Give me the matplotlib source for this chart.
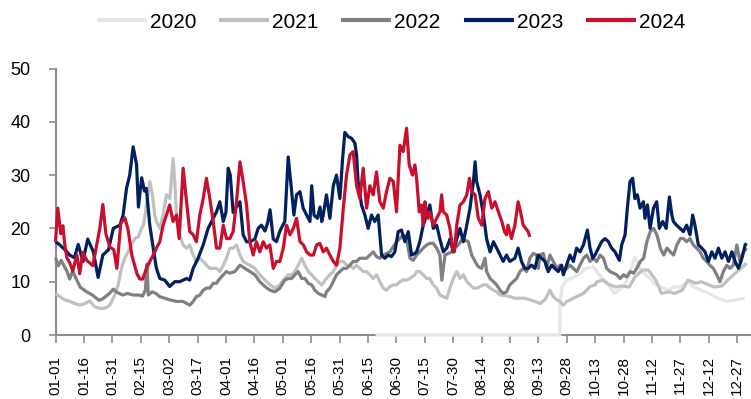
import matplotlib
matplotlib.use("Agg")
import matplotlib.pyplot as plt
from matplotlib import font_manager

# ---------------- data (day of year index, value) ----------------
d2020 = [169, 266.3, 266.5, 267.5, 270, 274, 277, 280, 284, 288, 291, 295, 299, 302, 306, 309, 313, 316,
         320, 323, 327, 330, 334, 337, 341, 345, 348, 352, 355, 359, 364]
v2020 = [0, 0, 6, 9, 10.3, 10.9, 11.5, 12.5, 12.8, 10.9, 10, 7.8, 8.8, 10.3, 14.7, 12.2, 10.9, 9.7,
         9, 8.4, 9, 9, 10, 9, 8.4, 7.8, 7.2, 6.6, 6.3, 6.6, 6.9]

d2021 = [0, 2.3, 4.9, 7.6, 10.2, 12.8, 15.5, 18, 20.7, 23.4, 26, 28.7, 31.3, 33.1, 34.8, 36.6, 38.4, 40.1,
         41.9, 43.7, 45.4, 46.5, 47.5, 49.8, 51.2, 52.4, 53.3, 55.1, 56.8, 58.6, 60.4, 62.1, 63, 63.9,
         65.6, 67.4, 69.2, 70.9, 72.7, 74.4, 76.2, 78, 79.7, 81.5, 83.3, 85, 86.8, 88.6, 90.3, 92.1, 93.8,
         95.6, 97.4, 99.1, 100.9, 102.6, 105.3, 107.9, 110.6, 113.3, 115.9, 118.5, 121.1, 122.9, 124.7,
         126.4, 128.2, 130, 131.7, 133.5, 135.3, 137, 138.8, 140.6, 143.1, 144.9, 146.7, 148.4, 150.2,
         152, 153.7, 155.5, 157.2, 159, 160.7, 162.5, 164.3, 166, 167.8, 169.5, 171.3, 173.1, 174.8,
         176.6, 178.4, 180.1, 181.9, 183.6, 185.4, 187.2, 189.8, 190.7, 192.4, 194.2, 196, 197.7, 199.5,
         201.3, 203, 204.8, 206.6, 208.3, 210.1, 211.9, 213.6, 215.4, 217.2, 218.9, 220.7, 222.4, 224.2,
         226, 227.7, 229.5, 231.3, 233, 234.8, 237.4, 240, 242.6, 245.3, 247.9, 250.5, 253.2, 255.8,
         258.5, 261.1, 262.9, 264.7, 266.4, 268.2, 270, 271.7, 273.5, 275.3, 277, 278.8, 280.5, 282.3,
         284.9, 286, 289, 292, 296, 299, 303, 306, 310, 313, 317, 320, 324, 327, 331, 334, 338, 341, 345,
         348, 352, 355, 359, 362, 365]
v2021 = [7.8, 7.2, 6.6, 6.3, 5.9, 5.6, 5.9, 6.4, 5.3, 5, 5, 5.6, 7.5, 9.4, 12.5, 14.4, 15.6, 16.9,
         18.1, 18.4, 20, 20.6, 23, 28.8, 26.3, 22.5, 21.3, 20, 22.5, 26.3, 25.6, 33.1, 28.8, 21.9,
         18.8, 16.9, 16.3, 16.9, 15, 13.8, 14.4, 13.8, 13.1, 12.5, 12.5, 12.5, 11.9, 13.1, 14.4, 16.3, 16.3,
         16.9, 15, 13.8, 13.4, 13.1, 12.5, 11.3, 10.3, 9.4, 8.8, 9.4, 10.6, 11.3, 11.3,
         11.9, 13.1, 14.4, 13.1, 11.9, 11.3, 10.6, 10, 9.4, 10.6, 11.3, 11.9, 13.1, 13.8,
         13.8, 13.1, 13.1, 12.5, 13.1, 12.5, 11.9, 11.9, 11.3, 10.6, 11.3, 10, 8.8, 8.4,
         9.1, 9.4, 9.4, 10, 10.3, 10.3, 10.6, 11.3, 11.9, 11.9, 11.3, 10.6, 10.6, 9.4,
         8.8, 7.5, 7.2, 6.9, 8.8, 10.6, 11.9, 10.6, 11.3, 10, 9.4, 8.8, 8.8, 9.1,
         9.4, 9.4, 8.8, 8.4, 8.1, 7.5, 7.4, 7.2, 6.9, 6.9, 6.9, 6.6, 6.3, 5.9,
         6.6, 8.4, 7.2, 6.6, 6.3, 5.6, 6.3, 6.6, 6.9, 7.2, 7.5, 7.8, 8.4, 9.1,
         9.4, 10, 10.3, 9.5, 9, 9.2, 9, 10.9, 12.2, 12.2, 10.3, 7.8, 8.1, 7.8, 8.4, 10.3, 9.7, 10, 9.4,
         9, 9.2, 10.3, 11.6, 12.5, 13.5]

d2022 = [0, 1.5, 3, 4.5, 6, 7.5, 9, 11, 13, 16, 19.5, 23, 25, 28.5, 30.5, 32.5, 35.5, 38, 41, 44, 46,
         47.5, 48.3, 49, 51, 53, 55, 57.7, 60.3, 63.9, 67.4, 70.9, 72.7, 74.4, 76.2, 78, 79.7, 81.5, 83.3,
         85, 86.8, 88.6, 90.3, 92.1, 94.7, 97.4, 100, 102.6, 105.3, 107.9, 110.6, 113.3, 115.9, 118.5,
         121.1, 122.9, 124.7, 126.4, 128.2, 130, 131.7, 133.5, 135.3, 137, 138.8, 140.6, 142.3, 143.1,
         144.9, 146.7, 148.4, 150.2, 152, 153.7, 155.5, 157.2, 159, 160.7, 162.5, 164.3, 166, 167.8,
         169.5, 171.3, 173.1, 174.8, 176.6, 178.4, 180.1, 181.9, 183.6, 185.4, 187.2, 188.9, 190.7, 192.4,
         194.2, 196, 197.7, 199.5, 201.3, 203, 204, 205.7, 207.5, 209.2, 211, 212.7, 214.5, 216.3, 218,
         219.8, 221.6, 223.3, 225.1, 226.8, 227.7, 229.5, 231.3, 233, 234.8, 236.4, 238.2, 239.9, 241.7,
         243.5, 245.3, 247, 248.8, 250.5, 252.3, 254.1, 255, 255.8, 257.6, 259.4, 261.1, 262.9, 264.7,
         266.4, 268.2, 270, 271.7, 273.5, 275.3, 277, 278.8, 280.5, 282.3, 284, 285.8, 287.6, 289.4,
         291.1, 292.9, 294.7, 296.4, 298.2, 300, 301.7, 303.5, 305.3, 307, 308.8, 310.6, 312.3, 314.1,
         315.9, 317.6, 319.4, 321.2, 322.9, 324.7, 326.4, 328.2, 330, 331.6, 333.3, 335.1, 336.8, 338.6,
         340.4, 342.1, 343.9, 345.6, 347.4, 349.2, 350.9, 352.7, 354.5, 356.2, 358, 359.8, 361.5, 363.3, 365]
v2022 = [14.5, 13, 14, 13, 12, 10.5, 12, 10.5, 9, 8.2, 7.5, 6.5, 6.8, 7.8, 8.6, 8, 7.5, 7.8, 7.5, 7.5, 7.3,
         8.5, 13.3, 7.5, 8.1, 7.8, 7.2, 6.9, 6.6, 6.3, 6.3, 5.6, 6.3, 7.2, 7.5, 8.4, 8.8, 8.8, 9.7,
         9.7, 10.6, 11.3, 11.9, 11.6, 11.9, 13.1, 12.5, 11.9, 11.3, 10, 9.1, 8.4, 8.1, 8.8,
         10.3, 10.6, 10.6, 11.3, 11.9, 10.6, 10.6, 9.7, 9.4, 8.4, 7.8, 7.5, 7.2, 8.1,
         8.8, 10, 11.3, 11.9, 12.5, 12.5, 13.1, 13.8, 13.8, 14.4, 14.4, 14.4, 15, 15.6,
         14.7, 14.4, 15, 15.3, 15.6, 16.6, 17.5, 18.1, 18.8, 18.1, 14.4, 14, 15, 15.6,
         16.3, 16.9, 17.2, 17.2, 16.3, 15, 10.3, 15, 15.3, 15.6, 16.3, 16.9, 17.8, 17.8, 17.5,
         15, 13.8, 12.8, 12.5, 14.4, 11.9, 10.6, 10, 9.4, 8.4, 7.8, 8.1, 9.4, 10,
         10.6, 11.9, 12.5, 11.9, 14.4, 15.3, 15, 12.5, 15, 15.3, 12.5, 15, 13.8, 12.5,
         13.1, 11.9, 12.5, 13.1, 12.5, 11.9, 13.1, 14.4, 15, 13.8, 14.4, 13.8, 15, 14.4,
         12.5, 11.9, 11.6, 11.3, 10.6, 11.3, 10.9, 11.9, 11.6, 12.5, 13.8, 14.4, 17.5, 19.4,
         20, 18.8, 16.3, 15, 16.3, 15.6, 15, 16.9, 18.1, 18.1, 17.5, 18.1, 16.9, 16.3,
         15.6, 14.4, 13.8, 13.1, 12.5, 11.3, 10, 11.9, 13.1, 12.5, 13.1, 16.9, 13.8, 15.6, 16.3]

d2023 = [0, 2, 5, 7.5, 10, 12, 14.5, 17, 20, 22.5, 25, 28, 30.5, 34, 35.7, 37.5, 39.2, 41, 42.8, 43.8,
         45.5, 47, 48, 49.8, 51.6, 53.3, 55.1, 57.7, 60.3, 63, 65.6, 69.2, 70.9, 72.7, 75.3, 78, 80.6,
         83.3, 85, 86.8, 88.6, 90, 91.2, 92.3, 93.8, 95.6, 97.4, 99.1, 100.9, 102.6, 105.3, 107, 108.8,
         110.6, 112, 113.3, 115, 116.7, 118.5, 121.1, 122.9, 124.7, 125.9, 127.3, 129.1, 130.8, 132.6,
         134.4, 135.3, 136.5, 138.3, 139.7, 140.6, 141.4, 143.1, 144.9, 146.7, 148.4, 150.2, 151.6,
         152.8, 154.6, 156.4, 158.1, 159, 159.8, 161.6, 163.4, 165.1, 166.9, 168.6, 170.4, 172.2, 173.9,
         175.7, 177.4, 179.2, 181, 182.7, 184.5, 186.3, 188, 189.8, 190.7, 192.4, 194.2, 196, 197.7,
         199.5, 201.3, 203, 204.8, 206.6, 208.3, 210.1, 211.9, 213.6, 215.4, 217.2, 218.9, 220.7, 221.6,
         222.4, 224.2, 226, 227.7, 229.5, 231.3, 233, 234.8, 236.4, 238.2, 239.9, 242.6, 244.3, 246.1,
         247.8, 249.6, 251.4, 253.2, 254.9, 256.7, 258.5, 260.2, 262, 263.7, 265.5, 267.3, 268.2, 269.9,
         271.7, 273.5, 275.2, 277, 278.8, 280.9, 282.3, 283.7, 284.9, 286.7, 288.4, 290.2, 292, 293.7,
         295.5, 297.8, 299, 300.8, 302, 303.4, 304.8, 306, 307.3, 308.7, 310.5, 311.3, 312.6, 314,
         315.8, 317.5, 318.9, 320.7, 322.5, 324.2, 325.5, 326.3, 328, 329.8, 331.6, 333.3, 335.1, 336.5,
         337.7, 339.5, 341.3, 343, 344.8, 346.6, 348.3, 350.1, 351.9, 353.6, 355.4, 357.2, 358.9, 360.7,
         362.5, 364.2, 365]
v2023 = [17.5, 17, 16, 15, 14.5, 17, 13.8, 18, 15.6, 10.8, 15, 16, 20, 20.6, 22.5, 27.5, 30, 35.3, 32, 24,
         29.5, 27, 27.5, 20.6, 16.3, 12.5, 10.6, 10.3, 9.1, 10, 10, 10.6, 10.3, 12.5, 14.4, 16.9, 20,
         21.9, 23.1, 25, 21.3, 23, 31.3, 30, 23, 24, 25, 18.8, 17.5, 17.5, 18, 20, 20.6,
         19.5, 21, 23.5, 18, 17.5, 19.5, 21.3, 33.4, 27, 22.5, 26.3, 26.9, 23.8, 22.5,
         21.3, 28, 22.5, 21.9, 24, 21.3, 22.5, 26.3, 21.9, 28, 30, 25.6, 33,
         38, 37.2, 36.9, 36, 33.8, 28.8, 24.4, 22.5, 20, 22.5, 21.3, 22.5, 15, 14.4,
         15, 14.7, 15.6, 19.4, 19.7, 17.5, 19.4, 15, 15.3, 15.6, 17.5, 20.6, 22.5, 24.4,
         20, 20.6, 18, 15.6, 16.3, 18, 15.6, 18, 20, 17.5, 20.6, 23.8, 28.8, 32.5,
         28.8, 26.3, 22.5, 18, 15.6, 17.5, 16.3, 15, 13.8, 15, 13.8, 14.4, 16.3, 13.8,
         12.5, 12.5, 13.1, 12.5, 15, 14.4, 13.8, 11.9, 13.1, 12.5, 11.9, 13.1, 11.3, 13.1,
         15, 13.8, 16.3, 15.6, 16.9, 19.7, 16.3, 14.4, 15, 16.3, 17.5, 18.1, 17.5, 16.3,
         15.6, 14, 16.9, 18.8, 23.8, 28.8, 29.4, 25.6, 26.3, 23.8, 25, 21.9, 24.4, 20,
         23.8, 25, 20, 21.3, 20, 25.9, 22.5, 21.3, 20.6, 20, 19.4, 20.6, 18.8, 22.5,
         20.6, 16.9, 16.3, 15.6, 13.8, 15.6, 14.4, 16.3, 14.4, 15.6, 13.8, 15.6, 13.8, 12.5,
         14.4, 16.9, 17.2]

d2024 = [0, 1.2, 2.8, 3.9, 4.9, 6, 7.6, 9.1, 11.3, 12.8, 14.4, 16.5, 18.1, 19.7, 21.3, 23.4, 25, 26.6,
         28.7, 30.8, 32.4, 34.5, 36.6, 38.2, 40.3, 43, 44.5, 46.1, 48, 49.8, 51.6, 53.3, 55.1, 56.8, 58.6,
         60.3, 62.1, 63.9, 65.3, 67.4, 69.2, 70.9, 72.7, 74.4, 76.2, 78, 79.7, 81.5, 83.3, 85, 86.8, 88.6,
         90.3, 92.1, 93.8, 95.6, 97.4, 99.1, 100.9, 102.6, 104.4, 106.1, 107.9, 109.7, 111.4, 113.2, 115,
         116.7, 118.5, 120.3, 122, 123.8, 125.6, 127.3, 129.1, 130.9, 132.6, 134.4, 136.2, 137.9, 139.6,
         141.4, 143.1, 144.9, 146.7, 148.4, 150.2, 152, 153.7, 155.5, 157.2, 159, 160.7, 162.5, 164.3,
         166, 167.8, 169.5, 171.3, 173.1, 174.8, 176.6, 178.4, 180.1, 181.9, 183.6, 185.4, 186.8, 188.5,
         189.8, 190.7, 192.1, 193.3, 194.2, 195.1, 196, 196.8, 197.7, 199.5, 201.3, 203, 203.9, 204.8,
         206.6, 208.3, 209.7, 210.6, 211.9, 213.6, 215.4, 217.2, 218.6, 219.8, 221.6, 223.3, 225.1, 226.8,
         228.6, 230.4, 232.1, 233.9, 235.7, 237.1, 238.2, 239, 240.8, 242.6, 244.3, 245.6, 247, 248.4,
         249.6, 250.5]
v2024 = [17.5, 23.8, 19, 20.5, 17, 14.5, 13.5, 12, 15, 11.5, 15.5, 14, 13.5, 13, 16, 20, 24.5, 19,
         16.5, 16, 12.5, 21, 22, 20, 15, 11.5, 10.5, 10.5, 12.5, 13.8, 15, 16.3, 17.5, 20.6, 22.5,
         24.4, 21.3, 22.5, 18.1, 31.3, 25, 19.4, 18.8, 17.5, 22.5, 25.6, 29.4, 25.6, 21.3, 16.3, 16.3, 20.6,
         18.1, 18.1, 19.4, 25, 32.5, 28.8, 24.4, 17.5, 15, 17.5, 15.6, 17.5, 16.3, 16.9, 12.5,
         13.8, 13.8, 16.3, 20.6, 18.8, 20, 21.9, 17.5, 16.9, 15.6, 15, 15, 16.9, 17.2,
         15.6, 16.3, 15, 13.8, 13.1, 16.3, 23.8, 30, 33.8, 34.4, 28, 25.6, 31.3, 23.8,
         28, 26.3, 30.6, 25, 23.8, 26.9, 29.4, 28.8, 23.1, 35.6, 34.4, 38.8, 31.9, 30,
         31.9, 29.4, 23.1, 24.4, 20.6, 25, 22.5, 21.9, 23.1, 20.6, 21.9, 23.1, 26.3, 23.1,
         22.5, 20, 16.3, 15.6, 20.6, 24.4, 25, 26.3, 29.4, 26.9, 26.3, 21.9, 20.6, 25.6,
         26.9, 23.8, 25, 23.1, 21.3, 19.4, 18.8, 20.6, 18.1, 20.6, 25, 23.1, 20.6, 20,
         19.4, 18.4]

tick_labels = ["01-01", "01-16", "01-31", "02-15", "03-02", "03-17", "04-01", "04-16", "05-01",
               "05-16", "05-31", "06-15", "06-30", "07-15", "07-30", "08-14", "08-29", "09-13",
               "09-28", "10-13", "10-28", "11-12", "11-27", "12-12", "12-27"]
y_ticks = [0, 10, 20, 30, 40, 50]

series = [("2020", d2020, v2020, "#e6e6e6"),
          ("2021", d2021, v2021, "#c0c0c0"),
          ("2022", d2022, v2022, "#808080"),
          ("2023", d2023, v2023, "#002060"),
          ("2024", d2024, v2024, "#c8102e")]

# ---------------- fonts ----------------
avail = {f.name for f in font_manager.fontManager.ttflist}
base_font = "Liberation Sans" if "Liberation Sans" in avail else "DejaVu Sans"
legend_font = "Liberation Sans Narrow" if "Liberation Sans Narrow" in avail else base_font
plt.rcParams["font.family"] = [base_font, "DejaVu Sans"]

# ---------------- figure ----------------
fig = plt.figure(figsize=(7.51, 3.99), dpi=100)
ax = fig.add_axes([55.5 / 751, 1 - 335 / 399, (750 - 55.5) / 751, (335 - 68.5) / 399])

for name, d, v, c in series:
    ax.plot(d, v, color=c, lw=2.3, label=name, zorder=3, clip_on=False,
            solid_joinstyle="round", solid_capstyle="butt")

ax.set_xlim(0, (750 - 55.7) / 1.893)
ax.set_ylim(0, 50)
ax.set_yticks(y_ticks)
ax.set_xticks([15 * i for i in range(len(tick_labels))])
ax.set_xticklabels(tick_labels, rotation=90, fontsize=11)
ax.tick_params(axis="y", labelsize=13, length=5, width=1.2, color="#8c8c8c", pad=13)
ax.tick_params(axis="x", length=6, width=1.2, color="#8c8c8c", pad=9)

for s in ["top", "right"]:
    ax.spines[s].set_visible(False)
for s in ["left", "bottom"]:
    ax.spines[s].set_color("#8c8c8c")
    ax.spines[s].set_linewidth(1.5)
    ax.spines[s].set_zorder(2)

fs_leg = 15
leg = fig.legend(loc="center", bbox_to_anchor=(391 / 751, 1 - 22 / 399), ncol=5, frameon=False,
                 prop={"family": [legend_font, base_font], "size": fs_leg},
                 handlelength=50 / (fs_leg * 1.389), handletextpad=3 / (fs_leg * 1.389),
                 columnspacing=23 / (fs_leg * 1.389), borderaxespad=0)
for h in leg.get_lines():
    h.set_linewidth(3)

fig.savefig("out.png", dpi=100)
